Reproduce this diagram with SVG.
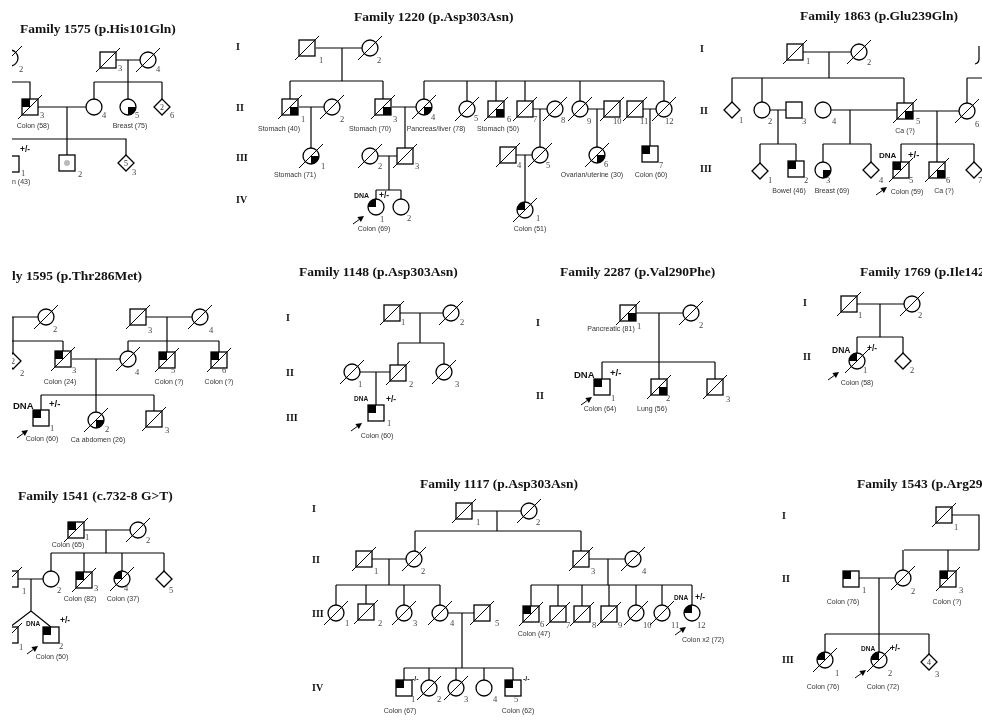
<svg xmlns="http://www.w3.org/2000/svg" width="982" height="726" viewBox="0 0 982 726">
<style>
.t{font-family:"Liberation Serif",serif;font-weight:bold;font-size:13.5px;fill:#111}
.g{font-family:"Liberation Serif",serif;font-weight:bold;font-size:10px;fill:#111}
.n{font-family:"Liberation Serif",serif;font-size:8.5px;fill:#444}
.d{font-family:"Liberation Sans",sans-serif;font-size:7px;fill:#333;text-anchor:middle}
.b{font-family:"Liberation Sans",sans-serif;font-weight:bold;font-size:7px;fill:#111}
.p{font-family:"Liberation Sans",sans-serif;font-weight:bold;font-size:8.5px;fill:#111}
.B{font-family:"Liberation Sans",sans-serif;font-weight:bold;font-size:9.5px;fill:#111}
.i{font-family:"Liberation Serif",serif;font-size:8px;fill:#333;text-anchor:middle}
.c path{fill:none;stroke:#000;stroke-width:1.2}
</style>
<defs>
<clipPath id="cl"><rect x="12" y="0" width="300" height="726"/></clipPath>
<rect id="SQ" width="16" height="16" fill="#fff" stroke="#000" stroke-width="1.3"/>
<circle id="CI" r="8" fill="#fff" stroke="#000" stroke-width="1.3"/>
<path id="DI" d="M0-8L8 0L0 8L-8 0Z" fill="#fff" stroke="#000" stroke-width="1.3"/>
<line id="XS" x1="-4" y1="20" x2="20" y2="-4" stroke="#000" stroke-width="1"/>
<line id="XC" x1="-12" y1="12" x2="12" y2="-12" stroke="#000" stroke-width="1"/>
<rect id="UL" width="8" height="8" fill="#000"/>
<rect id="LR" x="8" y="8" width="8" height="8" fill="#000"/>
<path id="CUL" d="M0 0H-8A8 8 0 0 1 0-8Z" fill="#000"/>
<path id="CLR" d="M0 0H8A8 8 0 0 1 0 8Z" fill="#000"/>
<g id="AR"><line x1="-11" y1="8" x2="-4.5" y2="3.3" stroke="#000" stroke-width="1"/><path d="M0 0L-6.6 1.1L-3.1 6Z" fill="#000"/></g>
</defs>
<rect width="982" height="726" fill="#fff"/>
<g opacity="0.995">
<g id="titles">
<text class="t" x="20" y="33">Family 1575 (p.His101Gln)</text>
<text class="t" x="354" y="21">Family 1220 (p.Asp303Asn)</text>
<text class="t" x="800" y="20">Family 1863 (p.Glu239Gln)</text>
<text class="t" x="12" y="280">ly 1595 (p.Thr286Met)</text>
<text class="t" x="299" y="276">Family 1148 (p.Asp303Asn)</text>
<text class="t" x="560" y="276">Family 2287 (p.Val290Phe)</text>
<text class="t" x="860" y="276">Family 1769 (p.Ile142</text>
<text class="t" x="18" y="500">Family 1541 (c.732-8 G&gt;T)</text>
<text class="t" x="420" y="488">Family 1117 (p.Asp303Asn)</text>
<text class="t" x="857" y="488">Family 1543 (p.Arg29</text>
</g>

<g id="generations">
<text class="g" x="236" y="50">I</text><text class="g" x="236" y="111">II</text><text class="g" x="236" y="161">III</text><text class="g" x="236" y="203">IV</text>
<text class="g" x="700" y="52">I</text><text class="g" x="700" y="114">II</text><text class="g" x="700" y="172">III</text>
<text class="g" x="286" y="321">I</text><text class="g" x="286" y="376">II</text><text class="g" x="286" y="421">III</text>
<text class="g" x="536" y="326">I</text><text class="g" x="536" y="399">II</text>
<text class="g" x="803" y="306">I</text><text class="g" x="803" y="360">II</text>
<text class="g" x="312" y="512">I</text><text class="g" x="312" y="563">II</text><text class="g" x="312" y="617">III</text><text class="g" x="312" y="691">IV</text>
<text class="g" x="782" y="519">I</text><text class="g" x="782" y="582">II</text><text class="g" x="782" y="663">III</text>
</g>

<g id="connectors" class="c">
<g id="c1575" clip-path="url(#cl)">
<path d="M0 82H30V99M38 107H86M67 107V155M0 139H126V155M116 60H140M128 60V99M94 82H162M94 82V99M162 82V99"/>
</g>
<g id="c1220">
<path d="M316 48H362M342 48V81M290 81H383M290 81V99M383 81V99M299 107H324M311 107V148M392 107H416M405 107V148M378 156H397M389 156V190M376 190H401M376 190V199M401 190V199"/>
<path d="M424 81H664M424 81V99M467 81V101M496 81V101M525 81V101M580 81V101M664 81V101M533 109H547M540 109V147M516 155H532M525 155V202M588 109H604M597 109V147M643 109H656M650 109V146"/>
</g>
<g id="c1863">
<path d="M803 52H851M829 52V78M732 78H904M732 78V102M762 78V102M904 78V103M770 110H786M778 110V144M760 144H796M760 144V163M796 144V161M831 110H897M850 110V144M823 144H871M823 144V162M871 144V162M913 111H959M937 111V162M901 144H974M901 144V162M974 144V162M967 78H982M967 78V103"/>
</g>
<g id="c1595" clip-path="url(#cl)">
<path d="M0 317H38M13 317V353M0 341H63M63 341V351M146 317H192M167 317V352M128 341H219M128 341V351M219 341V352M72 359H120M96 359V412M41 395H154M41 395V410M154 395V411"/>
</g>
<g id="c1148">
<path d="M400 313H443M420 313V343M398 343H444M398 343V365M444 343V364M360 372H390M376 372V405"/>
</g>
<g id="c2287">
<path d="M636 313H683M659 313V379M602 362H715M602 362V379M715 362V379"/>
</g>
<g id="c1769">
<path d="M857 304H904M880 304V337M857 337H903M857 337V353M903 337V353"/>
</g>
<g id="c1541" clip-path="url(#cl)">
<path d="M84 530H130M106 530V553M51 553H164M51 553V571M84 553V572M122 553V571M164 553V571M18 579H43M31 579V611M31 611L10 627M31 611L51 627"/>
</g>
<g id="c1117">
<path d="M472 511H521M497 511V531M415 531H581M415 531V551M581 531V551M372 559H406M389 559V585M336 585H440M336 585V605M366 585V604M404 585V605M440 585V605M448 613H474M462 613V668M404 668H513M404 668V680M429 668V680M456 668V680M484 668V680M513 668V680"/>
<path d="M589 559H625M608 559V585M531 585H692M531 585V606M558 585V606M582 585V606M609 585V606M636 585V605M662 585V605M692 585V605"/>
</g>
<g id="c1543">
<path d="M952 515H979V550M904 550H979M903 550V570M948 550V571M859 578H895M879 578V652M825 634H929M825 634V652M929 634V654"/>
</g>
</g>

<g id="nodes">
<g id="n1575" clip-path="url(#cl)">
<g id="f1575-I2"><use href="#CI" x="10" y="58"/><use href="#XC" x="10" y="58"/><text class="n" x="19" y="72">2</text></g>
<g id="f1575-I3"><use href="#SQ" x="100" y="52"/><use href="#XS" x="100" y="52"/><text class="n" x="118" y="71">3</text></g>
<g id="f1575-I4"><use href="#CI" x="148" y="60"/><use href="#XC" x="148" y="60"/><text class="n" x="156" y="72">4</text></g>
<g id="f1575-II3"><use href="#SQ" x="22" y="99"/><use href="#UL" x="22" y="99"/><use href="#XS" x="22" y="99"/><text class="n" x="40" y="118">3</text><text class="d" x="33" y="128">Colon (58)</text></g>
<g id="f1575-II4"><use href="#CI" x="94" y="107"/><text class="n" x="102" y="118">4</text></g>
<g id="f1575-II5"><use href="#CI" x="128" y="107"/><use href="#CLR" x="128" y="107"/><text class="n" x="135" y="118">5</text><text class="d" x="130" y="128">Breast (75)</text></g>
<g id="f1575-II6"><use href="#DI" x="162" y="107"/><text class="i" x="162" y="110">2</text><text class="n" x="170" y="118">6</text></g>
<g id="f1575-III1"><use href="#SQ" x="3" y="156"/><text class="n" x="21" y="176">1</text><text class="p" x="20" y="152">+/-</text><text class="d" x="12" y="184" style="text-anchor:start">n (43)</text></g>
<g id="f1575-III2"><use href="#SQ" x="59" y="155"/><circle cx="67" cy="163" r="3" fill="#bbb"/><text class="n" x="78" y="177">2</text></g>
<g id="f1575-III3"><use href="#DI" x="126" y="163"/><text class="i" x="126" y="166">5</text><text class="n" x="132" y="175">3</text></g>
</g>

<g id="n1220">
<g id="f1220-I1"><use href="#SQ" x="299" y="40"/><use href="#XS" x="299" y="40"/><text class="n" x="319" y="63">1</text></g>
<g id="f1220-I2"><use href="#CI" x="370" y="48"/><use href="#XC" x="370" y="48"/><text class="n" x="377" y="63">2</text></g>
<g id="f1220-II1"><use href="#SQ" x="282" y="99"/><use href="#LR" x="282" y="99"/><use href="#XS" x="282" y="99"/><text class="n" x="301" y="122">1</text><text class="d" x="279" y="131">Stomach (40)</text></g>
<g id="f1220-II2"><use href="#CI" x="332" y="107"/><use href="#XC" x="332" y="107"/><text class="n" x="340" y="122">2</text></g>
<g id="f1220-II3"><use href="#SQ" x="375" y="99"/><use href="#LR" x="375" y="99"/><use href="#XS" x="375" y="99"/><text class="n" x="393" y="122">3</text><text class="d" x="370" y="131">Stomach (70)</text></g>
<g id="f1220-II4"><use href="#CI" x="424" y="107"/><use href="#CLR" x="424" y="107"/><use href="#XC" x="424" y="107"/><text class="n" x="431" y="120">4</text><text class="d" x="436" y="131">Pancreas/liver (78)</text></g>
<g id="f1220-II5"><use href="#CI" x="467" y="109"/><use href="#XC" x="467" y="109"/><text class="n" x="474" y="121">5</text></g>
<g id="f1220-II6"><use href="#SQ" x="488" y="101"/><use href="#LR" x="488" y="101"/><use href="#XS" x="488" y="101"/><text class="n" x="507" y="122">6</text><text class="d" x="498" y="131">Stomach (50)</text></g>
<g id="f1220-II7"><use href="#SQ" x="517" y="101"/><use href="#XS" x="517" y="101"/><text class="n" x="533" y="122">7</text></g>
<g id="f1220-II8"><use href="#CI" x="555" y="109"/><use href="#XC" x="555" y="109"/><text class="n" x="561" y="123">8</text></g>
<g id="f1220-II9"><use href="#CI" x="580" y="109"/><use href="#XC" x="580" y="109"/><text class="n" x="587" y="124">9</text></g>
<g id="f1220-II10"><use href="#SQ" x="604" y="101"/><use href="#XS" x="604" y="101"/><text class="n" x="613" y="124">10</text></g>
<g id="f1220-II11"><use href="#SQ" x="627" y="101"/><use href="#XS" x="627" y="101"/><text class="n" x="640" y="124">11</text></g>
<g id="f1220-II12"><use href="#CI" x="664" y="109"/><use href="#XC" x="664" y="109"/><text class="n" x="665" y="124">12</text></g>
<g id="f1220-III1"><use href="#CI" x="311" y="156"/><use href="#CLR" x="311" y="156"/><use href="#XC" x="311" y="156"/><text class="n" x="321" y="169">1</text><text class="d" x="295" y="177">Stomach (71)</text></g>
<g id="f1220-III2"><use href="#CI" x="370" y="156"/><use href="#XC" x="370" y="156"/><text class="n" x="378" y="169">2</text></g>
<g id="f1220-III3"><use href="#SQ" x="397" y="148"/><use href="#XS" x="397" y="148"/><text class="n" x="415" y="169">3</text></g>
<g id="f1220-III4"><use href="#SQ" x="500" y="147"/><use href="#XS" x="500" y="147"/><text class="n" x="517" y="168">4</text></g>
<g id="f1220-III5"><use href="#CI" x="540" y="155"/><use href="#XC" x="540" y="155"/><text class="n" x="546" y="168">5</text></g>
<g id="f1220-III6"><use href="#CI" x="597" y="155"/><use href="#CLR" x="597" y="155"/><use href="#XC" x="597" y="155"/><text class="n" x="604" y="167">6</text><text class="d" x="592" y="177">Ovarian/uterine (30)</text></g>
<g id="f1220-III7"><use href="#SQ" x="642" y="146"/><use href="#UL" x="642" y="146"/><text class="n" x="659" y="168">7</text><text class="d" x="651" y="177">Colon (60)</text></g>
<g id="f1220-IV1a"><use href="#CI" x="376" y="207"/><use href="#CUL" x="376" y="207"/><text class="n" x="380" y="222">1</text><text class="b" x="354" y="198">DNA</text><text class="p" x="379" y="198">+/-</text><use href="#AR" x="364" y="216"/><text class="d" x="374" y="231">Colon (69)</text></g>
<g id="f1220-IV2"><use href="#CI" x="401" y="207"/><text class="n" x="407" y="221">2</text></g>
<g id="f1220-IV1b"><use href="#CI" x="525" y="210"/><use href="#CUL" x="525" y="210"/><use href="#XC" x="525" y="210"/><text class="n" x="536" y="221">1</text><text class="d" x="530" y="231">Colon (51)</text></g>
</g>

<g id="n1863">
<g id="f1863-I1"><use href="#SQ" x="787" y="44"/><use href="#XS" x="787" y="44"/><text class="n" x="806" y="64">1</text></g>
<g id="f1863-I2"><use href="#CI" x="859" y="52"/><use href="#XC" x="859" y="52"/><text class="n" x="867" y="65">2</text></g>
<g id="f1863-I3"><path d="M979 46V59Q979 63 975 64" fill="none" stroke="#000" stroke-width="1.2"/></g>
<g id="f1863-II1"><use href="#DI" x="732" y="110"/><text class="n" x="739" y="123">1</text></g>
<g id="f1863-II2"><use href="#CI" x="762" y="110"/><text class="n" x="768" y="124">2</text></g>
<g id="f1863-II3"><use href="#SQ" x="786" y="102"/><text class="n" x="802" y="124">3</text></g>
<g id="f1863-II4"><use href="#CI" x="823" y="110"/><text class="n" x="832" y="124">4</text></g>
<g id="f1863-II5"><use href="#SQ" x="897" y="103"/><use href="#LR" x="897" y="103"/><use href="#XS" x="897" y="103"/><text class="n" x="916" y="124">5</text><text class="d" x="905" y="133">Ca (?)</text></g>
<g id="f1863-II6"><use href="#CI" x="967" y="111"/><use href="#XC" x="967" y="111"/><text class="n" x="975" y="127">6</text></g>
<g id="f1863-III1"><use href="#DI" x="760" y="171"/><text class="n" x="768" y="183">1</text></g>
<g id="f1863-III2"><use href="#SQ" x="788" y="161"/><use href="#UL" x="788" y="161"/><text class="n" x="804" y="183">2</text><text class="d" x="789" y="193">Bowel (46)</text></g>
<g id="f1863-III3"><use href="#CI" x="823" y="170"/><use href="#CLR" x="823" y="170"/><text class="n" x="826" y="183">3</text><text class="d" x="832" y="193">Breast (69)</text></g>
<g id="f1863-III4"><use href="#DI" x="871" y="170"/><text class="n" x="879" y="183">4</text></g>
<g id="f1863-III5"><use href="#SQ" x="893" y="162"/><use href="#UL" x="893" y="162"/><use href="#XS" x="893" y="162"/><text class="n" x="909" y="183">5</text><text class="b" x="879" y="158" style="font-size:8px">DNA</text><text class="B" x="908" y="158">+/-</text><use href="#AR" x="887" y="187"/><text class="d" x="907" y="194">Colon (59)</text></g>
<g id="f1863-III6"><use href="#SQ" x="929" y="162"/><use href="#LR" x="929" y="162"/><use href="#XS" x="929" y="162"/><text class="n" x="946" y="183">6</text><text class="d" x="944" y="193">Ca (?)</text></g>
<g id="f1863-III7"><use href="#DI" x="974" y="170"/><text class="n" x="978" y="183">7</text></g>
</g>

<g id="n1595" clip-path="url(#cl)">
<g id="f1595-I2"><use href="#CI" x="46" y="317"/><use href="#XC" x="46" y="317"/><text class="n" x="53" y="332">2</text></g>
<g id="f1595-I3"><use href="#SQ" x="130" y="309"/><use href="#XS" x="130" y="309"/><text class="n" x="148" y="333">3</text></g>
<g id="f1595-I4"><use href="#CI" x="200" y="317"/><use href="#XC" x="200" y="317"/><text class="n" x="209" y="333">4</text></g>
<g id="f1595-II2"><use href="#DI" x="13" y="361"/><text class="i" x="13" y="364">2</text><text class="n" x="20" y="376">2</text></g>
<g id="f1595-II3"><use href="#SQ" x="55" y="351"/><use href="#UL" x="55" y="351"/><use href="#XS" x="55" y="351"/><text class="n" x="72" y="373">3</text><text class="d" x="60" y="384">Colon (24)</text></g>
<g id="f1595-II4"><use href="#CI" x="128" y="359"/><use href="#XC" x="128" y="359"/><text class="n" x="135" y="375">4</text></g>
<g id="f1595-II5"><use href="#SQ" x="159" y="352"/><use href="#UL" x="159" y="352"/><use href="#XS" x="159" y="352"/><text class="n" x="171" y="373">5</text><text class="d" x="169" y="384">Colon (?)</text></g>
<g id="f1595-II6"><use href="#SQ" x="211" y="352"/><use href="#UL" x="211" y="352"/><use href="#XS" x="211" y="352"/><text class="n" x="222" y="373">6</text><text class="d" x="219" y="384">Colon (?)</text></g>
<g id="f1595-III1"><use href="#SQ" x="33" y="410"/><use href="#UL" x="33" y="410"/><text class="n" x="50" y="431">1</text><text class="B" x="13" y="409">DNA</text><text class="B" x="49" y="407">+/-</text><use href="#AR" x="28" y="430"/><text class="d" x="42" y="441">Colon (60)</text></g>
<g id="f1595-III2"><use href="#CI" x="96" y="420"/><use href="#CLR" x="96" y="420"/><use href="#XC" x="96" y="420"/><text class="n" x="105" y="432">2</text><text class="d" x="98" y="442">Ca abdomen (26)</text></g>
<g id="f1595-III3"><use href="#SQ" x="146" y="411"/><use href="#XS" x="146" y="411"/><text class="n" x="165" y="433">3</text></g>
</g>

<g id="n1148">
<g id="f1148-I1"><use href="#SQ" x="384" y="305"/><use href="#XS" x="384" y="305"/><text class="n" x="401" y="325">1</text></g>
<g id="f1148-I2"><use href="#CI" x="451" y="313"/><use href="#XC" x="451" y="313"/><text class="n" x="460" y="325">2</text></g>
<g id="f1148-II1"><use href="#CI" x="352" y="372"/><use href="#XC" x="352" y="372"/><text class="n" x="358" y="387">1</text></g>
<g id="f1148-II2"><use href="#SQ" x="390" y="365"/><use href="#XS" x="390" y="365"/><text class="n" x="409" y="387">2</text></g>
<g id="f1148-II3"><use href="#CI" x="444" y="372"/><use href="#XC" x="444" y="372"/><text class="n" x="455" y="387">3</text></g>
<g id="f1148-III1"><use href="#SQ" x="368" y="405"/><use href="#UL" x="368" y="405"/><text class="n" x="387" y="426">1</text><text class="b" x="354" y="401" style="font-size:6.5px">DNA</text><text class="p" x="386" y="402">+/-</text><use href="#AR" x="362" y="423"/><text class="d" x="377" y="438">Colon (60)</text></g>
</g>

<g id="n2287">
<g id="f2287-I1"><use href="#SQ" x="620" y="305"/><use href="#LR" x="620" y="305"/><use href="#XS" x="620" y="305"/><text class="n" x="637" y="329">1</text><text class="d" x="611" y="331">Pancreatic (81)</text></g>
<g id="f2287-I2"><use href="#CI" x="691" y="313"/><use href="#XC" x="691" y="313"/><text class="n" x="699" y="328">2</text></g>
<g id="f2287-II1"><use href="#SQ" x="594" y="379"/><use href="#UL" x="594" y="379"/><text class="n" x="611" y="401">1</text><text class="B" x="574" y="378">DNA</text><text class="B" x="610" y="376">+/-</text><use href="#AR" x="592" y="397"/><text class="d" x="600" y="411">Colon (64)</text></g>
<g id="f2287-II2"><use href="#SQ" x="651" y="379"/><use href="#LR" x="651" y="379"/><use href="#XS" x="651" y="379"/><text class="n" x="666" y="401">2</text><text class="d" x="652" y="411">Lung (56)</text></g>
<g id="f2287-II3"><use href="#SQ" x="707" y="379"/><use href="#XS" x="707" y="379"/><text class="n" x="726" y="402">3</text></g>
</g>

<g id="n1769">
<g id="f1769-I1"><use href="#SQ" x="841" y="296"/><use href="#XS" x="841" y="296"/><text class="n" x="858" y="318">1</text></g>
<g id="f1769-I2"><use href="#CI" x="912" y="304"/><use href="#XC" x="912" y="304"/><text class="n" x="918" y="318">2</text></g>
<g id="f1769-II1"><use href="#CI" x="857" y="361"/><use href="#CUL" x="857" y="361"/><use href="#XC" x="857" y="361"/><text class="n" x="863" y="373">1</text><text class="B" x="832" y="353" style="font-size:8.5px">DNA</text><text class="B" x="867" y="351" style="font-size:8.5px">+/-</text><use href="#AR" x="839" y="372"/><text class="d" x="857" y="385">Colon (58)</text></g>
<g id="f1769-II2"><use href="#DI" x="903" y="361"/><text class="n" x="910" y="373">2</text></g>
</g>

<g id="n1541" clip-path="url(#cl)">
<g id="f1541-I1"><use href="#SQ" x="68" y="522"/><use href="#UL" x="68" y="522"/><use href="#XS" x="68" y="522"/><text class="n" x="85" y="540">1</text><text class="d" x="68" y="547">Colon (65)</text></g>
<g id="f1541-I2"><use href="#CI" x="138" y="530"/><use href="#XC" x="138" y="530"/><text class="n" x="146" y="543">2</text></g>
<g id="f1541-II1"><use href="#SQ" x="2" y="571"/><use href="#XS" x="2" y="571"/><text class="n" x="22" y="594">1</text></g>
<g id="f1541-II2"><use href="#CI" x="51" y="579"/><text class="n" x="57" y="593">2</text></g>
<g id="f1541-II3"><use href="#SQ" x="76" y="572"/><use href="#UL" x="76" y="572"/><use href="#XS" x="76" y="572"/><text class="n" x="94" y="591">3</text><text class="d" x="80" y="601">Colon (82)</text></g>
<g id="f1541-II4"><use href="#CI" x="122" y="579"/><use href="#CUL" x="122" y="579"/><use href="#XC" x="122" y="579"/><text class="n" x="124" y="591">4</text><text class="d" x="123" y="601">Colon (37)</text></g>
<g id="f1541-II5"><use href="#DI" x="164" y="579"/><text class="n" x="169" y="593">5</text></g>
<g id="f1541-III1"><use href="#SQ" x="2" y="627"/><use href="#XS" x="2" y="627"/><text class="n" x="19" y="650">1</text></g>
<g id="f1541-III2"><use href="#SQ" x="43" y="627"/><use href="#UL" x="43" y="627"/><text class="n" x="59" y="649">2</text><text class="b" x="26" y="626" style="font-size:6.5px">DNA</text><text class="p" x="60" y="623">+/-</text><use href="#AR" x="38" y="646"/><text class="d" x="52" y="659">Colon (50)</text></g>
</g>

<g id="n1117">
<g id="f1117-I1"><use href="#SQ" x="456" y="503"/><use href="#XS" x="456" y="503"/><text class="n" x="476" y="525">1</text></g>
<g id="f1117-I2"><use href="#CI" x="529" y="511"/><use href="#XC" x="529" y="511"/><text class="n" x="536" y="525">2</text></g>
<g id="f1117-II1"><use href="#SQ" x="356" y="551"/><use href="#XS" x="356" y="551"/><text class="n" x="374" y="574">1</text></g>
<g id="f1117-II2"><use href="#CI" x="414" y="559"/><use href="#XC" x="414" y="559"/><text class="n" x="421" y="574">2</text></g>
<g id="f1117-II3"><use href="#SQ" x="573" y="551"/><use href="#XS" x="573" y="551"/><text class="n" x="591" y="574">3</text></g>
<g id="f1117-II4"><use href="#CI" x="633" y="559"/><use href="#XC" x="633" y="559"/><text class="n" x="642" y="574">4</text></g>
<g id="f1117-III1"><use href="#CI" x="336" y="613"/><use href="#XC" x="336" y="613"/><text class="n" x="345" y="626">1</text></g>
<g id="f1117-III2"><use href="#SQ" x="358" y="604"/><use href="#XS" x="358" y="604"/><text class="n" x="378" y="626">2</text></g>
<g id="f1117-III3"><use href="#CI" x="404" y="613"/><use href="#XC" x="404" y="613"/><text class="n" x="413" y="626">3</text></g>
<g id="f1117-III4"><use href="#CI" x="440" y="613"/><use href="#XC" x="440" y="613"/><text class="n" x="450" y="626">4</text></g>
<g id="f1117-III5"><use href="#SQ" x="474" y="605"/><use href="#XS" x="474" y="605"/><text class="n" x="495" y="626">5</text></g>
<g id="f1117-III6"><use href="#SQ" x="523" y="606"/><use href="#UL" x="523" y="606"/><use href="#XS" x="523" y="606"/><text class="n" x="540" y="627">6</text><text class="d" x="534" y="636">Colon (47)</text></g>
<g id="f1117-III7"><use href="#SQ" x="550" y="606"/><use href="#XS" x="550" y="606"/><text class="n" x="566" y="628">7</text></g>
<g id="f1117-III8"><use href="#SQ" x="574" y="606"/><use href="#XS" x="574" y="606"/><text class="n" x="592" y="628">8</text></g>
<g id="f1117-III9"><use href="#SQ" x="601" y="606"/><use href="#XS" x="601" y="606"/><text class="n" x="618" y="628">9</text></g>
<g id="f1117-III10"><use href="#CI" x="636" y="613"/><use href="#XC" x="636" y="613"/><text class="n" x="643" y="628">10</text></g>
<g id="f1117-III11"><use href="#CI" x="662" y="613"/><use href="#XC" x="662" y="613"/><text class="n" x="671" y="628">11</text></g>
<g id="f1117-III12"><use href="#CI" x="692" y="613"/><use href="#CUL" x="692" y="613"/><text class="n" x="697" y="628">12</text><text class="b" x="674" y="600" style="font-size:6.5px">DNA</text><text class="p" x="695" y="600">+/-</text><use href="#AR" x="686" y="627"/><text class="d" x="703" y="642">Colon x2 (72)</text></g>
<g id="f1117-IV1"><use href="#SQ" x="396" y="680"/><use href="#UL" x="396" y="680"/><text class="n" x="411" y="702">1</text><text class="b" x="412" y="681">-/-</text><text class="d" x="400" y="713">Colon (67)</text></g>
<g id="f1117-IV2"><use href="#CI" x="429" y="688"/><use href="#XC" x="429" y="688"/><text class="n" x="437" y="702">2</text></g>
<g id="f1117-IV3"><use href="#CI" x="456" y="688"/><use href="#XC" x="456" y="688"/><text class="n" x="464" y="702">3</text></g>
<g id="f1117-IV4"><use href="#CI" x="484" y="688"/><text class="n" x="493" y="702">4</text></g>
<g id="f1117-IV5"><use href="#SQ" x="505" y="680"/><use href="#UL" x="505" y="680"/><text class="n" x="514" y="702">5</text><text class="b" x="523" y="681">-/-</text><text class="d" x="518" y="713">Colon (62)</text></g>
</g>

<g id="n1543">
<g id="f1543-I1"><use href="#SQ" x="936" y="507"/><use href="#XS" x="936" y="507"/><text class="n" x="954" y="530">1</text></g>
<g id="f1543-II1"><use href="#SQ" x="843" y="571"/><use href="#UL" x="843" y="571"/><text class="n" x="862" y="593">1</text><text class="d" x="843" y="604">Colon (76)</text></g>
<g id="f1543-II2"><use href="#CI" x="903" y="578"/><use href="#XC" x="903" y="578"/><text class="n" x="911" y="594">2</text></g>
<g id="f1543-II3"><use href="#SQ" x="940" y="571"/><use href="#UL" x="940" y="571"/><use href="#XS" x="940" y="571"/><text class="n" x="959" y="593">3</text><text class="d" x="947" y="604">Colon (?)</text></g>
<g id="f1543-III1"><use href="#CI" x="825" y="660"/><use href="#CUL" x="825" y="660"/><use href="#XC" x="825" y="660"/><text class="n" x="835" y="676">1</text><text class="d" x="823" y="689">Colon (76)</text></g>
<g id="f1543-III2"><use href="#CI" x="879" y="660"/><use href="#CUL" x="879" y="660"/><use href="#XC" x="879" y="660"/><text class="n" x="888" y="676">2</text><text class="b" x="861" y="651" style="font-size:6.5px">DNA</text><text class="p" x="890" y="651">+/-</text><use href="#AR" x="866" y="670"/><text class="d" x="883" y="689">Colon (72)</text></g>
<g id="f1543-III3"><use href="#DI" x="929" y="662"/><text class="i" x="929" y="665">4</text><text class="n" x="935" y="677">3</text></g>
</g>
</g>
</g>
</svg>
